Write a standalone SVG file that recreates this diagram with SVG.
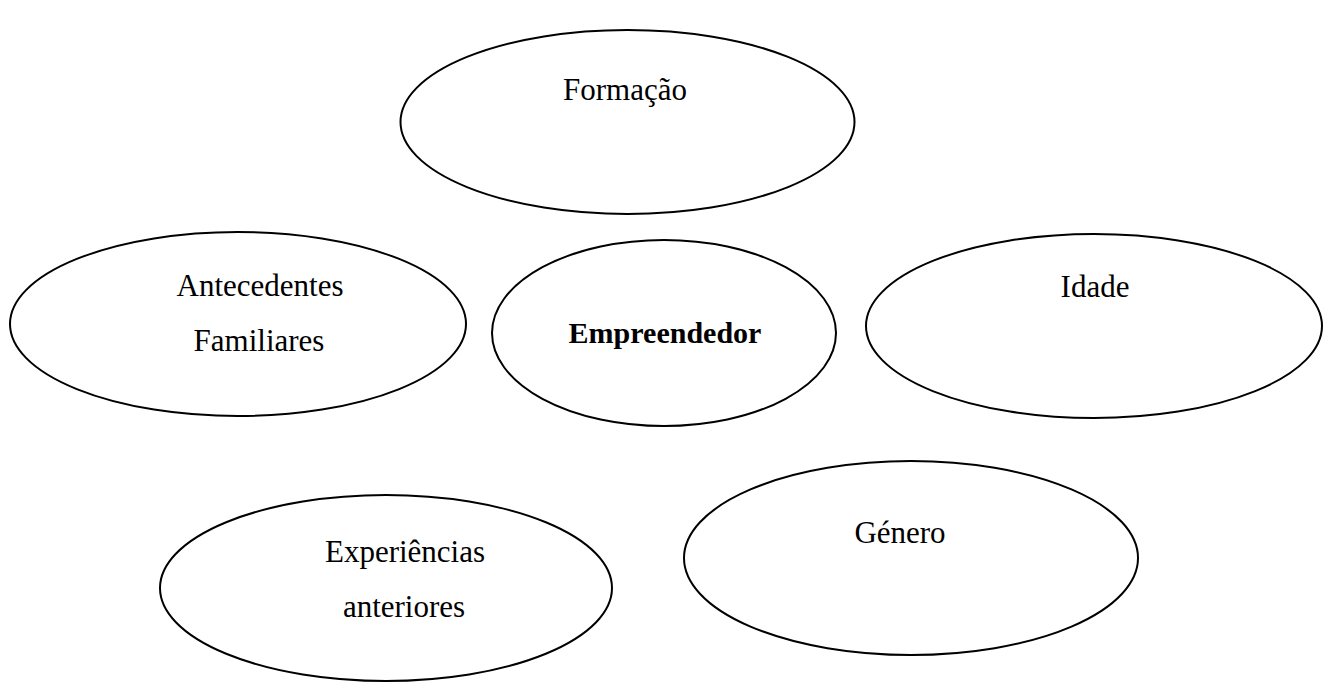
<svg xmlns="http://www.w3.org/2000/svg" width="1331" height="682" viewBox="0 0 1331 682">
<style>
.e{fill:#fff;stroke:#000;stroke-width:2}
.t{font-family:"Liberation Serif","Times New Roman",serif;font-size:31px;fill:#000;text-anchor:middle}
.b{font-weight:bold;font-size:30px}
</style>
<rect width="1331" height="682" fill="#fff"/>
<g id="connectors"></g>
<g id="formacao">
<ellipse class="e" cx="627.5" cy="122" rx="227" ry="92"/>
<text class="t" x="625" y="100">Formação</text>
</g>
<g id="antecedentes">
<ellipse class="e" cx="238" cy="324" rx="228" ry="92"/>
<text class="t" x="260" y="296">Antecedentes</text>
<text class="t" x="259" y="351">Familiares</text>
</g>
<g id="empreendedor">
<ellipse class="e" cx="664" cy="333" rx="172" ry="93"/>
<text class="t b" x="665" y="343">Empreendedor</text>
</g>
<g id="idade">
<ellipse class="e" cx="1094" cy="326" rx="228" ry="92"/>
<text class="t" x="1095" y="297">Idade</text>
</g>
<g id="experiencias">
<ellipse class="e" cx="386" cy="588" rx="226" ry="93"/>
<text class="t" x="405" y="562">Experiências</text>
<text class="t" x="404" y="617">anteriores</text>
</g>
<g id="genero">
<ellipse class="e" cx="911" cy="558" rx="227" ry="97"/>
<text class="t" x="900" y="543">Género</text>
</g>
</svg>
